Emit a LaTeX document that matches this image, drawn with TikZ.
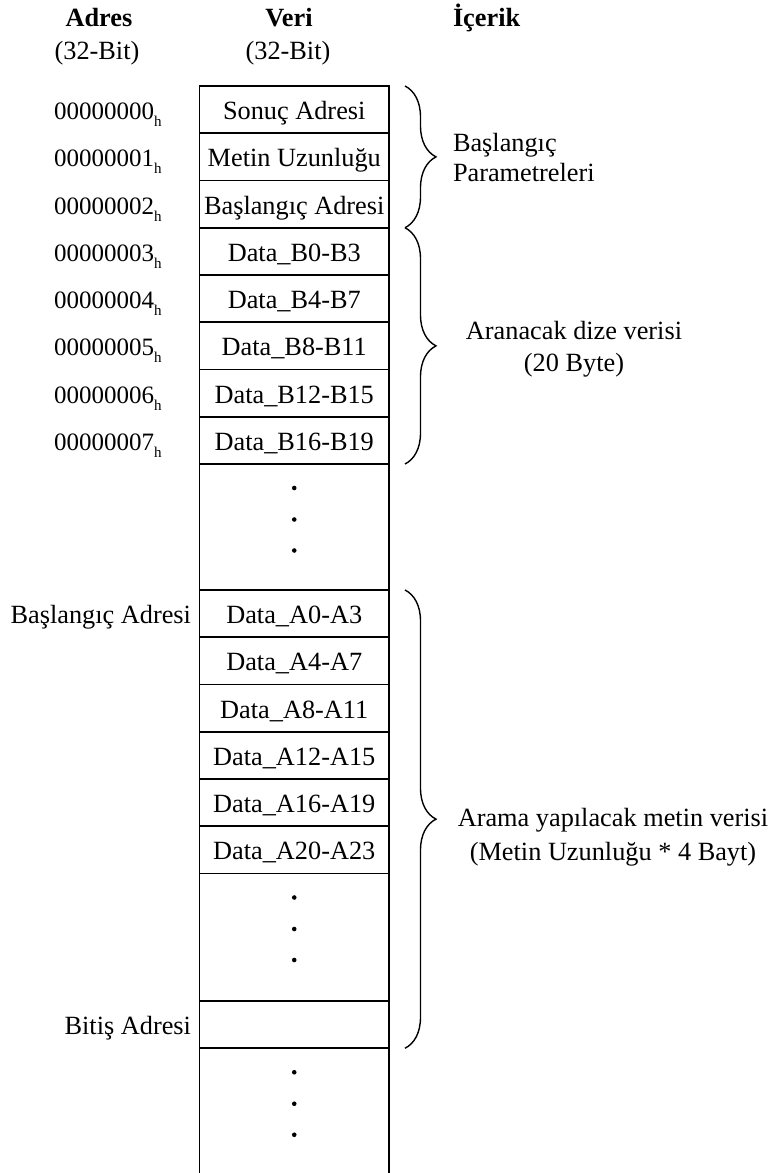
\documentclass[tikz,border=0pt]{standalone}
\usepackage{fontspec}
\setmainfont{Liberation Serif}
\usetikzlibrary{positioning,calc,decorations.pathreplacing}
% lowered hexadecimal suffix
\newcommand{\hexsuf}{\raisebox{-7pt}{\fontsize{15}{15}\selectfont h}}

\begin{document}
\begin{tikzpicture}[x=1pt,y=1pt,
  every node/.style={font=\fontsize{26.3}{31}\selectfont, inner sep=0pt, outer sep=0pt},
  cell/.style={draw, line width=1.7pt, minimum width=189.5pt, minimum height=47.25pt,
               text height=24pt, text depth=4.2pt},
  gapcell/.style={draw, line width=1.7pt, minimum width=189.5pt, minimum height=#1},
  tailcell/.style={minimum width=189.5pt, minimum height=126pt},
  addr/.style={anchor=west, font=\fontsize{25}{31}\selectfont, text height=24pt, text depth=4.2pt},
  marklbl/.style={anchor=east, text height=24pt, text depth=4.2pt},
  head/.style={font=\fontsize{26.3}{31}\selectfont\bfseries, anchor=base},
  sub/.style={anchor=base},
  curly/.style={decorate, decoration={brace, amplitude=31pt}, line width=1.4pt},
  dot/.style={fill=black}
]
\useasboundingbox (0,0) rectangle (769,-1173);

% column headers
\node[head] (hadr) at (99,-26.7) {Adres};
\node[sub]  (hadrb) at (97,-59.3) {(32-Bit)};
\node[head] (hveri) at (289,-26.7) {Veri};
\node[sub]  (hverib) at (288,-59.3) {(32-Bit)};
\node[head, anchor=base west] (hicr) at (453,-26.7) {İçerik};

% memory column
\node[cell] (r0) at (294.25,-109.625) {Sonuç Adresi};
\node[cell, below=0pt of r0] (r1) {Metin Uzunluğu};
\node[cell, below=0pt of r1] (r2) {Başlangıç Adresi};
\node[cell, below=0pt of r2] (r3) {Data\_B0-B3};
\node[cell, below=0pt of r3] (r4) {Data\_B4-B7};
\node[cell, below=0pt of r4] (r5) {Data\_B8-B11};
\node[cell, below=0pt of r5] (r6) {Data\_B12-B15};
\node[cell, below=0pt of r6] (r7) {Data\_B16-B19};
\node[gapcell=126pt, below=0pt of r7] (g1) {};
\node[cell, below=0pt of g1] (a0) {Data\_A0-A3};
\node[cell, below=0pt of a0] (a1) {Data\_A4-A7};
\node[cell, below=0pt of a1] (a2) {Data\_A8-A11};
\node[cell, below=0pt of a2] (a3) {Data\_A12-A15};
\node[cell, below=0pt of a3] (a4) {Data\_A16-A19};
\node[cell, below=0pt of a4] (a5) {Data\_A20-A23};
\node[gapcell=127.5pt, below=0pt of a5] (g2) {};
\node[cell, below=0pt of g2] (e0) {};
\node[tailcell, below=0pt of e0] (tl) {};
\draw[line width=1.7pt] (tl.north west) -- (tl.south west);
\draw[line width=1.7pt] (tl.north east) -- (tl.south east);

% ellipsis dots
\foreach \g in {g1,g2,tl}{
  \foreach \dy in {24,55.5,86.5}{
    \fill[dot] ($(\g.north)+(0,-\dy)$) circle (2.3);
  }
}

% addresses
\coordinate (ax) at (54,0);
\coordinate (lx) at (191,0);
\node[addr] (l0) at (ax |- r0) {00000000\hexsuf};
\node[addr] (l1) at (ax |- r1) {00000001\hexsuf};
\node[addr] (l2) at (ax |- r2) {00000002\hexsuf};
\node[addr] (l3) at (ax |- r3) {00000003\hexsuf};
\node[addr] (l4) at (ax |- r4) {00000004\hexsuf};
\node[addr] (l5) at (ax |- r5) {00000005\hexsuf};
\node[addr] (l6) at (ax |- r6) {00000006\hexsuf};
\node[addr] (l7) at (ax |- r7) {00000007\hexsuf};
\node[marklbl] (lbs) at (lx |- a0) {Başlangıç Adresi};
\node[marklbl] (lbt) at (lx |- e0) {Bitiş Adresi};

% braces
\draw[curly] ($(r0.north east)+(16,0)$) -- ($(r2.south east)+(16,0)$);
\draw[curly] ($(r3.north east)+(16,0)$) -- ($(r7.south east)+(16,0)$);
\draw[curly] ($(a0.north east)+(16,0)$) -- ($(e0.south east)+(16,0)$);

% contents
\node[anchor=base west] (c1a) at (453,-151.7) {Başlangıç};
\node[anchor=base west] (c1b) at (453,-181.7) {Parametreleri};
\node[sub] (c2a) at (574,-339.3) {Aranacak dize verisi};
\node[sub] (c2b) at (574,-371) {(20 Byte)};
\node[sub] (c3a) at (613,-826.7) {Arama yapılacak metin verisi};
\node[sub] (c3b) at (613,-860) {(Metin Uzunluğu * 4 Bayt)};
\end{tikzpicture}
\end{document}
